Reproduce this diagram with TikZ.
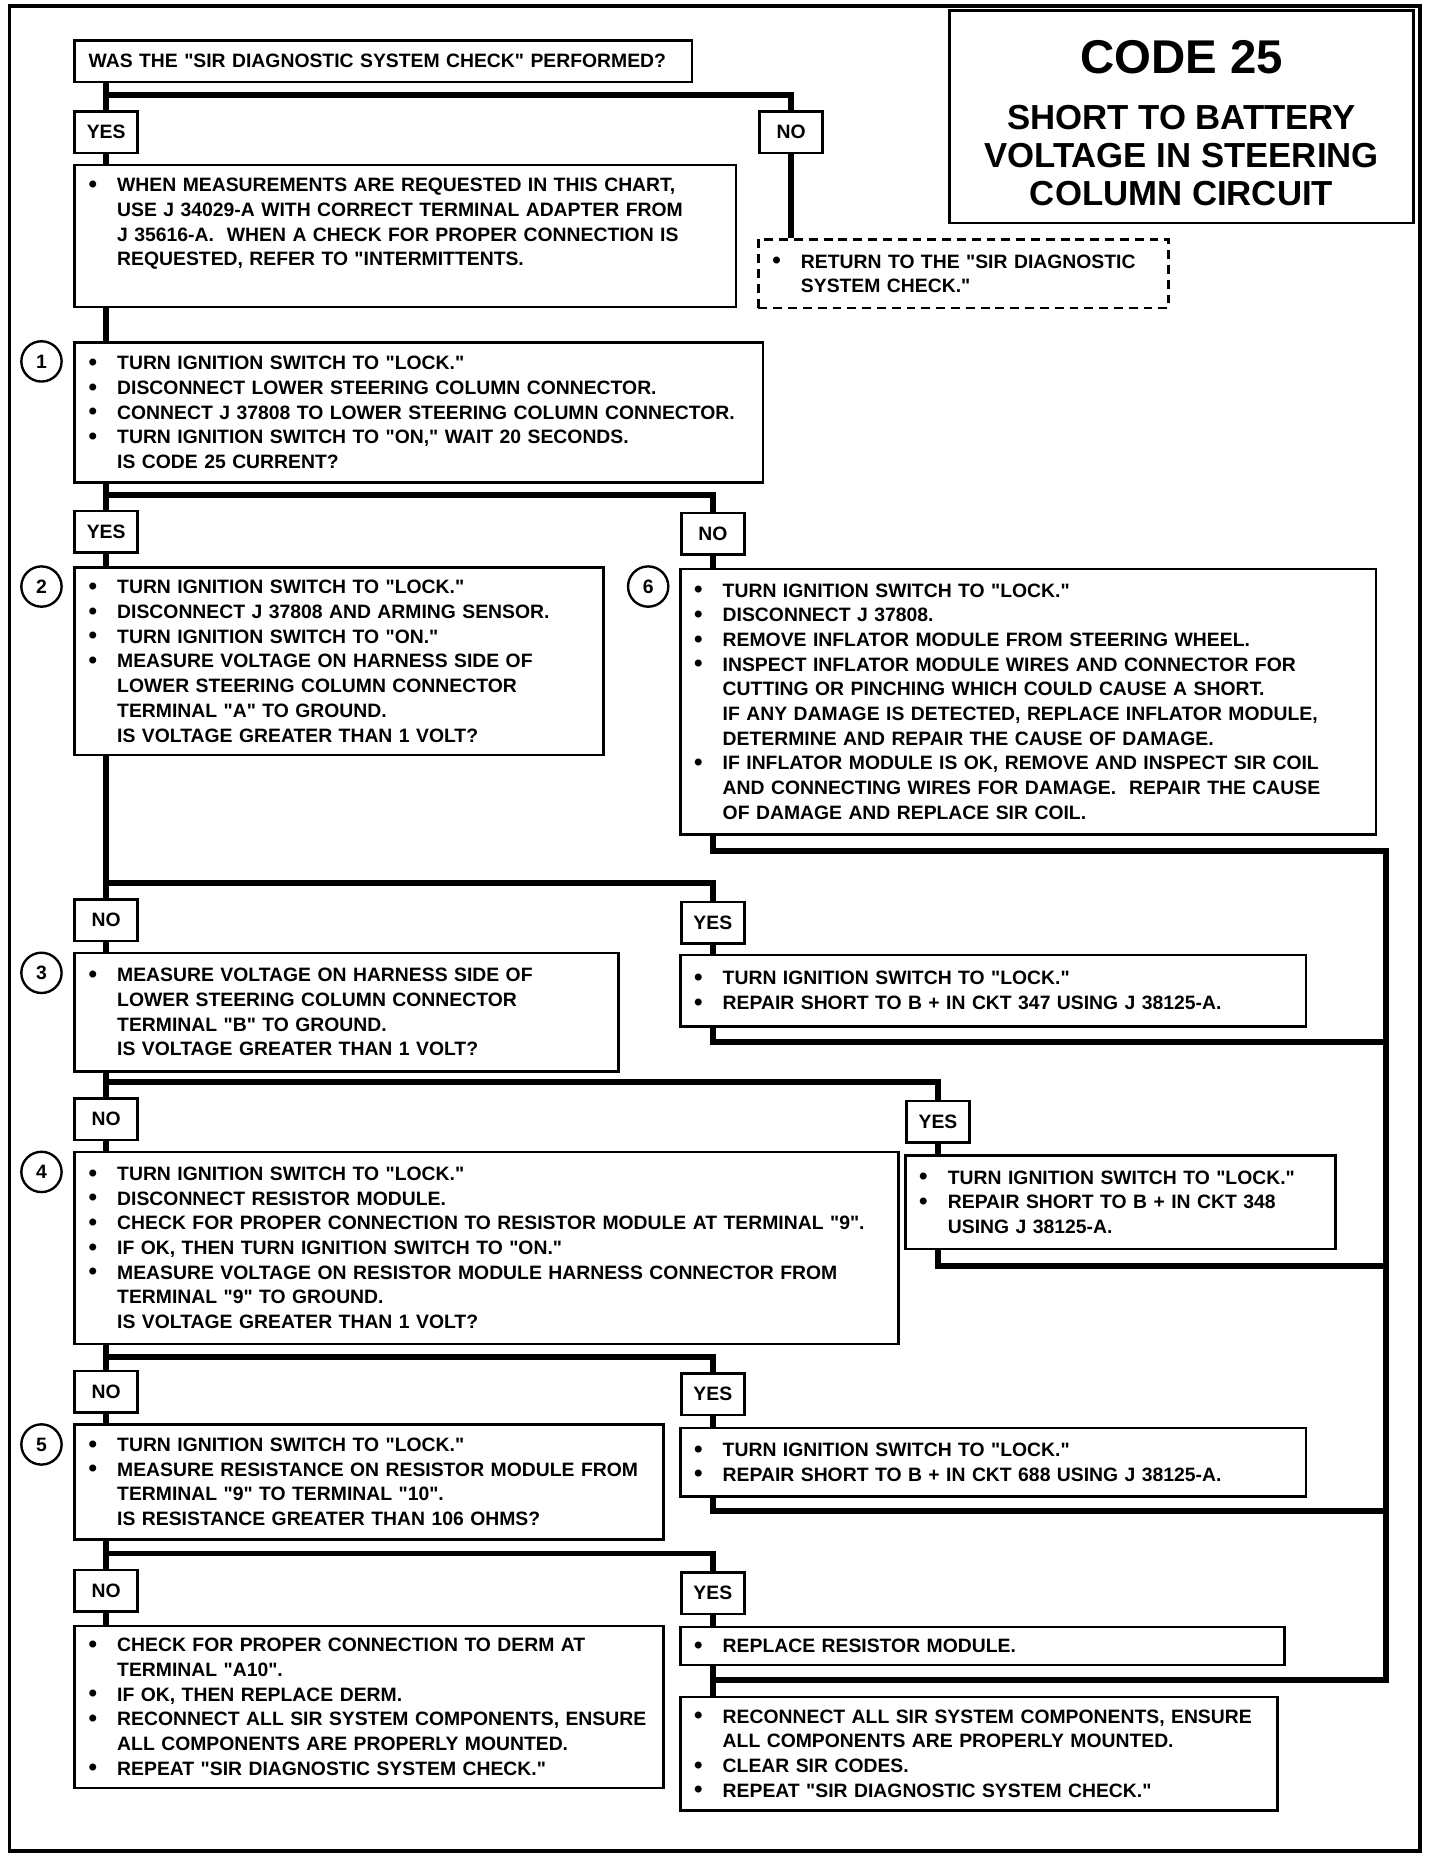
\documentclass[tikz,border=0pt]{standalone}
\usepackage{fontspec}
\setmainfont{Liberation Sans}[Ligatures=TeXOff]
\usepackage{tikz}
\usetikzlibrary{backgrounds}

\newcommand{\bpt}{\makebox[14.5pt][l]{\raisebox{-0.3pt}{\scalebox{1.25}{\textbullet}}}}
\newcommand{\bcont}{\hspace*{14.5pt}}

\begin{document}
\begin{tikzpicture}[x=0.6pt, y=-0.6pt,
    txt/.style={font=\bfseries\fontsize{9.8}{12.5}\selectfont},
    stepbox/.style={txt, draw, line width=1.3pt, fill=white, anchor=north west, align=left, inner xsep=7pt, inner ysep=5pt},
    ans/.style={txt, draw, line width=1.3pt, fill=white, anchor=north west, minimum width=31.8pt, minimum height=21pt, inner sep=0pt},
    num/.style={txt, circle, draw, line width=1.2pt, minimum size=20.4pt, inner sep=0pt},
    flow/.style={line width=3pt, line join=miter}]
    \useasboundingbox (0,0) rectangle (1215,1568);

    \node[txt, draw, line width=1.3pt, anchor=north west, minimum width=235.2pt, minimum height=107.4pt, align=center, font=\bfseries\fontsize{17.6}{19.2}\selectfont] (title) at (800,8) {{\fontsize{24}{24}\selectfont\rule{0pt}{23pt}CODE 25}\\[9pt] SHORT TO BATTERY\\ VOLTAGE IN STEERING\\ COLUMN CIRCUIT};

    \node[stepbox, text width=298.6pt, minimum height=21pt] (q) at (62,33) {WAS THE "SIR DIAGNOSTIC SYSTEM CHECK" PERFORMED?};
    \node[ans] (yes0) at (62,93) {YES};
    \node[ans] (no0) at (640,93) {NO};
    \node[stepbox, text width=320.8pt, minimum height=72pt] (info) at (62,138) {\bpt WHEN MEASUREMENTS ARE REQUESTED IN THIS CHART,\\ \bcont USE J 34029-A WITH CORRECT TERMINAL ADAPTER FROM\\ \bcont J 35616-A.\ \ WHEN A CHECK FOR PROPER CONNECTION IS\\ \bcont REQUESTED, REFER TO "INTERMITTENTS.\rule[-14pt]{0pt}{0pt}};
    \node[stepbox, dash pattern=on 4.5pt off 3pt, text width=193.6pt, minimum height=34.8pt] (ret) at (639,201) {\bpt RETURN TO THE "SIR DIAGNOSTIC\\ \bcont SYSTEM CHECK."};

    \node[num] (c1) at (35,305) {1};
    \node[stepbox, text width=334.6pt, minimum height=70.8pt] (b1) at (62,288) {\bpt TURN IGNITION SWITCH TO "LOCK."\\ \bpt DISCONNECT LOWER STEERING COLUMN CONNECTOR.\\ \bpt CONNECT J 37808 TO LOWER STEERING COLUMN CONNECTOR.\\ \bpt TURN IGNITION SWITCH TO "ON," WAIT 20 SECONDS.\\ \bcont IS CODE 25 CURRENT?};
    \node[ans] (yes1) at (62,430) {YES};
    \node[ans] (no1) at (574,432) {NO};

    \node[num] (c2) at (35,495) {2};
    \node[stepbox, text width=253.6pt, minimum height=94.8pt] (b2) at (62,478) {\bpt TURN IGNITION SWITCH TO "LOCK."\\ \bpt DISCONNECT J 37808 AND ARMING SENSOR.\\ \bpt TURN IGNITION SWITCH TO "ON."\\ \bpt MEASURE VOLTAGE ON HARNESS SIDE OF\\ \bcont LOWER STEERING COLUMN CONNECTOR\\ \bcont TERMINAL "A" TO GROUND.\\ \bcont IS VOLTAGE GREATER THAN 1 VOLT?};
    \node[num] (c6) at (547,495) {6};
    \node[stepbox, text width=338.2pt, minimum height=134.4pt] (b6) at (573,479) {\bpt TURN IGNITION SWITCH TO "LOCK."\\ \bpt DISCONNECT J 37808.\\ \bpt REMOVE INFLATOR MODULE FROM STEERING WHEEL.\\ \bpt INSPECT INFLATOR MODULE WIRES AND CONNECTOR FOR\\ \bcont CUTTING OR PINCHING WHICH COULD CAUSE A SHORT.\\ \bcont IF ANY DAMAGE IS DETECTED, REPLACE INFLATOR MODULE,\\ \bcont DETERMINE AND REPAIR THE CAUSE OF DAMAGE.\\ \bpt IF INFLATOR MODULE IS OK, REMOVE AND INSPECT SIR COIL\\ \bcont AND CONNECTING WIRES FOR DAMAGE.\ \ REPAIR THE CAUSE\\ \bcont OF DAMAGE AND REPLACE SIR COIL.};
    \node[ans] (no2) at (62,758) {NO};
    \node[ans] (yes2) at (574,760) {YES};

    \node[num] (c3) at (35,821) {3};
    \node[stepbox, text width=261.4pt, minimum height=60pt] (b3) at (62,803) {\bpt MEASURE VOLTAGE ON HARNESS SIDE OF\\ \bcont LOWER STEERING COLUMN CONNECTOR\\ \bcont TERMINAL "B" TO GROUND.\\ \bcont IS VOLTAGE GREATER THAN 1 VOLT?};
    \node[stepbox, text width=302.8pt, minimum height=36pt] (b3y) at (573,805) {\bpt TURN IGNITION SWITCH TO "LOCK."\\ \bpt REPAIR SHORT TO B + IN CKT 347 USING J 38125-A.};
    \node[ans] (no3) at (62,926) {NO};
    \node[ans] (yes3) at (764,928) {YES};

    \node[num] (c4) at (35,989) {4};
    \node[stepbox, text width=403pt, minimum height=97.2pt] (b4) at (62,971) {\bpt TURN IGNITION SWITCH TO "LOCK."\\ \bpt DISCONNECT RESISTOR MODULE.\\ \bpt CHECK FOR PROPER CONNECTION TO RESISTOR MODULE AT TERMINAL "9".\\ \bpt IF OK, THEN TURN IGNITION SWITCH TO "ON."\\ \bpt MEASURE VOLTAGE ON RESISTOR MODULE HARNESS CONNECTOR FROM\\ \bcont TERMINAL "9" TO GROUND.\\ \bcont IS VOLTAGE GREATER THAN 1 VOLT?};
    \node[stepbox, text width=203.8pt, minimum height=47.4pt] (b4y) at (763,974) {\bpt TURN IGNITION SWITCH TO "LOCK."\\ \bpt REPAIR SHORT TO B + IN CKT 348\\ \bcont USING J 38125-A.};
    \node[ans] (no4) at (62,1156) {NO};
    \node[ans] (yes4) at (574,1158) {YES};

    \node[num] (c5) at (35,1219) {5};
    \node[stepbox, text width=284.2pt, minimum height=58.2pt] (b5) at (62,1201) {\bpt TURN IGNITION SWITCH TO "LOCK."\\ \bpt MEASURE RESISTANCE ON RESISTOR MODULE FROM\\ \bcont TERMINAL "9" TO TERMINAL "10".\\ \bcont IS RESISTANCE GREATER THAN 106 OHMS?};
    \node[stepbox, text width=302.8pt, minimum height=34.8pt] (b5y) at (573,1204) {\bpt TURN IGNITION SWITCH TO "LOCK."\\ \bpt REPAIR SHORT TO B + IN CKT 688 USING J 38125-A.};
    \node[ans] (no5) at (62,1324) {NO};
    \node[ans] (yes5) at (574,1326) {YES};

    \node[stepbox, text width=284.2pt, minimum height=82.2pt] (b5n) at (62,1371) {\bpt CHECK FOR PROPER CONNECTION TO DERM AT\\ \bcont TERMINAL "A10".\\ \bpt IF OK, THEN REPLACE DERM.\\ \bpt RECONNECT ALL SIR SYSTEM COMPONENTS, ENSURE\\ \bcont ALL COMPONENTS ARE PROPERLY MOUNTED.\\ \bpt REPEAT "SIR DIAGNOSTIC SYSTEM CHECK."};
    \node[stepbox, text width=292pt, minimum height=19.2pt] (rep) at (573,1372) {\bpt REPLACE RESISTOR MODULE.};
    \node[stepbox, text width=288.4pt, minimum height=57.6pt] (fin) at (573,1431) {\bpt RECONNECT ALL SIR SYSTEM COMPONENTS, ENSURE\\ \bcont ALL COMPONENTS ARE PROPERLY MOUNTED.\\ \bpt CLEAR SIR CODES.\\ \bpt REPEAT "SIR DIAGNOSTIC SYSTEM CHECK."};

    \coordinate (railbot) at (1170,1418);

    \begin{scope}[on background layer]
        \draw[line width=2pt] (8,5) rectangle (1198,1562);
        \draw[flow] (q.south -| yes0) -- (info.north -| yes0);
        \draw[flow] (yes0.north) ++(0,-13) -| (no0.north);
        \draw[flow] (no0.south) -- (ret.north -| no0);
        \draw[flow] (info.south -| yes0) -- (b1.north -| yes0);
        \draw[flow] (b1.south -| yes1) -- (b2.north -| yes1);
        \draw[flow] (yes1.north) ++(0,-12) -| (no1.north);
        \draw[flow] (no1.south) -- (b6.north -| no1);
        \draw[flow] (b2.south -| no2) -- (b3.north -| no2);
        \draw[flow] (no2.north) ++(0,-13) -| (yes2.north);
        \draw[flow] (yes2.south) -- (b3y.north -| yes2);
        \draw[flow] (b3.south -| no3) -- (b4.north -| no3);
        \draw[flow] (no3.north) ++(0,-13) -| (yes3.north);
        \draw[flow] (yes3.south) -- (b4y.north -| yes3);
        \draw[flow] (b4.south -| no4) -- (b5.north -| no4);
        \draw[flow] (no4.north) ++(0,-11) -| (yes4.north);
        \draw[flow] (yes4.south) -- (b5y.north -| yes4);
        \draw[flow] (b5.south -| no5) -- (b5n.north -| no5);
        \draw[flow] (no5.north) ++(0,-13) -| (yes5.north);
        \draw[flow] (yes5.south) -- (rep.north -| yes5);
        \draw[flow] (b6.south -| no1) -- ++(0,13) coordinate (r6) -- (r6 -| railbot) -- (railbot) -| (fin.north -| yes5);
        \draw[flow] (b3y.south -| yes2) -- ++(0,12) coordinate (r3) -- (r3 -| railbot);
        \draw[flow] (b4y.south -| yes3) -- ++(0,13) coordinate (r4) -- (r4 -| railbot);
        \draw[flow] (b5y.south -| yes4) -- ++(0,11) coordinate (r5) -- (r5 -| railbot);
        \draw[flow] (rep.south -| yes5) -- (fin.north -| yes5);
    \end{scope}
\end{tikzpicture}
\end{document}
